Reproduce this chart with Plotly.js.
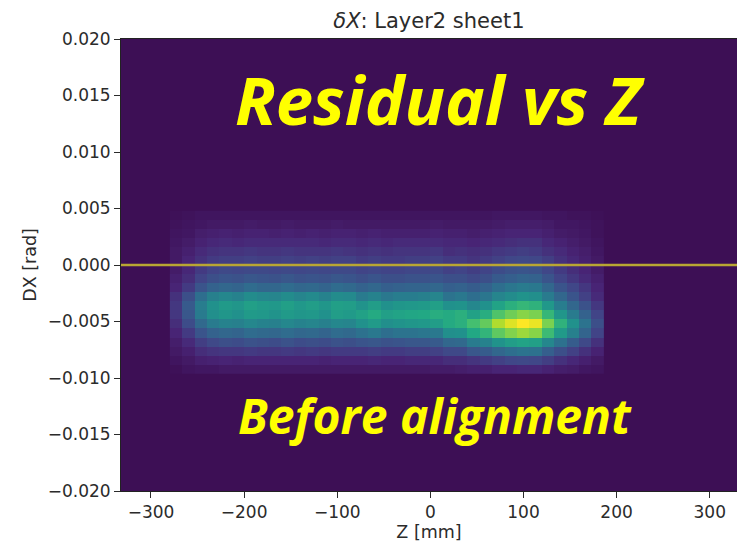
<!DOCTYPE html>
<html><head><meta charset="utf-8">
<script src="https://cdn.plot.ly/plotly-3.0.1.min.js"></script>
<style>body{margin:0;background:#fff}</style>
</head><body><div id="chart" style="width:737px;height:550px"></div>
<script>
// 2D histogram bins: Z bins (mm) and DX bins (rad)
const zBinFirstCenter = -273.06;
const zBinWidth = 13.32;
const dxBinFirstCenter = -0.0092;
const dxBinWidth = 0.0008;

// counts per Z bin, each listing DX bins from bottom (-0.0092) to top (0.0044)
const leftColumns = [
  [1,3,5,7,10,13,16,16,14,10,8,6,5,5,4,3,2,1],
  [3,5,8,12,17,23,27,28,24,17,13,11,10,8,6,4,3,2],
  [4,8,13,18,26,34,41,42,36,26,20,17,14,12,9,7,4,3],
  [4,9,15,22,31,41,49,50,43,31,24,20,17,14,11,8,5,3],
  [5,10,16,24,33,44,52,54,46,33,26,22,18,15,12,9,5,3],
  [5,9,16,23,32,43,50,52,44,32,25,21,18,15,11,8,5,3],
  [5,10,17,25,35,46,54,56,48,35,27,22,19,16,12,9,6,3],
  [5,10,16,24,34,44,53,54,46,33,26,22,18,15,12,9,5,3],
  [5,10,16,23,33,43,51,53,45,33,25,21,18,15,12,8,5,3],
  [5,10,17,25,35,46,54,56,48,35,27,22,19,16,12,9,6,3],
  [5,10,16,23,33,44,52,53,45,33,25,21,18,15,12,8,5,3],
  [5,10,17,24,34,45,53,55,47,34,26,22,19,15,12,9,5,3],
  [5,9,16,23,32,43,50,52,44,32,25,21,18,15,11,8,5,3],
  [5,10,17,25,35,46,55,56,48,35,27,22,19,16,12,9,6,3],
  [5,10,17,24,34,45,54,55,47,34,26,22,19,15,12,9,5,3]
];
const middleColumns = [
  [5,10,17,26,37,50,57,51,41,31,24,20,17,14,11,8,5,3],
  [5,11,18,27,40,54,61,55,44,33,26,21,18,15,12,9,5,3],
  [5,10,17,25,36,49,56,50,40,30,24,20,17,14,11,8,5,3],
  [5,10,17,26,38,51,58,52,42,31,24,20,17,15,12,8,5,3],
  [5,11,18,27,38,52,59,53,42,32,25,21,18,15,12,8,5,3],
  [5,11,18,27,39,53,60,54,43,32,25,21,18,15,12,8,5,3],
  [6,11,19,28,40,55,62,56,45,33,26,22,19,16,12,9,6,3],
  [6,13,22,33,49,61,61,50,38,30,24,19,17,13,11,8,5,3],
  [7,13,22,34,50,63,63,51,40,31,24,20,17,14,11,8,5,3]
];
const rightColumns = [
  [8,15,27,41,60,70,57,46,36,29,22,18,15,13,10,7,5,3],
  [8,17,29,44,65,76,62,50,39,31,24,20,17,14,11,8,5,3],
  [10,19,33,51,75,88,72,58,45,36,28,23,19,16,12,9,6,4],
  [10,21,36,55,81,95,78,63,48,39,30,25,21,17,13,10,7,4],
  [11,22,38,58,85,100,82,66,51,41,32,26,22,18,14,10,7,4],
  [11,21,37,56,82,97,80,64,49,40,31,25,21,17,14,10,7,4],
  [9,18,30,46,68,80,66,53,41,33,26,21,18,14,11,8,6,3],
  [7,14,24,37,54,64,52,42,33,26,20,17,14,12,9,6,4,3],
  [6,11,19,29,43,50,41,33,26,21,16,13,11,9,7,5,4,2],
  [4,8,14,22,32,38,31,25,19,16,12,10,8,7,5,4,3,2],
  [3,5,9,14,20,24,20,16,12,10,8,6,5,4,3,2,2,1]
];

const xTicks = [-300,-200,-100,0,100,200,300];
const yTicks = [-0.020,-0.015,-0.010,-0.005,0.000,0.005,0.010,0.015,0.020];

const columns = leftColumns.concat(middleColumns, rightColumns);
const nRows = columns[0].length;
const z = [];
for (let j = 0; j < nRows; j++) z.push(columns.map(c => c[j]));

const bg = '#3d0f55';
const viridis = [
  [0, bg],[0.1,'#482475'],[0.2,'#414487'],[0.3,'#355f8d'],[0.4,'#2a788e'],
  [0.5,'#21918c'],[0.6,'#22a884'],[0.7,'#44bf70'],[0.8,'#7ad151'],
  [0.9,'#bddf26'],[1,'#fde725']
];

const trace = {
  type: 'heatmap', z: z,
  x0: zBinFirstCenter, dx: zBinWidth,
  y0: dxBinFirstCenter, dy: dxBinWidth,
  colorscale: viridis, zmin: 0, zmax: 100,
  showscale: false, hoverinfo: 'skip'
};

const txt = '#2b2b2b';
const tickFont = {family: 'DejaVu Sans', size: 17, color: txt};
const layout = {
  width: 737, height: 550,
  margin: {l: 121, r: 0, t: 39, b: 59},
  paper_bgcolor: '#ffffff', plot_bgcolor: bg,
  font: {family: 'DejaVu Sans'},
  title: {text: '<i>δX</i>: Layer2 sheet1', x: 0.582, xanchor: 'center', y: 0.963, yanchor: 'middle',
          font: {family: 'DejaVu Sans', size: 21, color: txt}},
  xaxis: {range: [-332.2, 329.3], tickvals: xTicks, ticks: 'outside', ticklen: 6, tickcolor: txt,
          showgrid: false, zeroline: false, showline: true, linecolor: '#222', linewidth: 1, mirror: true,
          tickfont: tickFont, automargin: false,
          title: {text: 'Z [mm]', font: {family: 'DejaVu Sans', size: 17.5, color: txt}, standoff: 2}},
  yaxis: {range: [-0.02, 0.02], tickvals: yTicks, tickformat: '.3f', ticks: 'outside', ticklen: 6, tickcolor: txt,
          showgrid: false, zeroline: false, showline: true, linecolor: '#222', linewidth: 1, mirror: true,
          tickfont: tickFont, automargin: false,
          title: {text: 'DX [rad]', font: {family: 'DejaVu Sans', size: 17.5, color: txt}, standoff: 6}},
  shapes: [{type: 'line', xref: 'paper', x0: 0, x1: 1, yref: 'y', y0: 0, y1: 0,
            line: {color: '#b9a633', width: 2.5}}],
  annotations: [
    {text: 'Residual vs Z', xref: 'x', yref: 'y', x: 11, y: 0.0147, showarrow: false,
     xanchor: 'center', yanchor: 'middle',
     font: {family: 'Open Sans', size: 67, color: '#ffff00', weight: 'bold', style: 'italic'}},
    {text: 'Before alignment', xref: 'x', yref: 'y', x: 5, y: -0.01336, showarrow: false,
     xanchor: 'center', yanchor: 'middle',
     font: {family: 'Open Sans', size: 48, color: '#ffff00', weight: 'bold', style: 'italic'}}
  ]
};

Plotly.newPlot('chart', [trace], layout, {displayModeBar: false, staticPlot: true});
</script></body></html>
